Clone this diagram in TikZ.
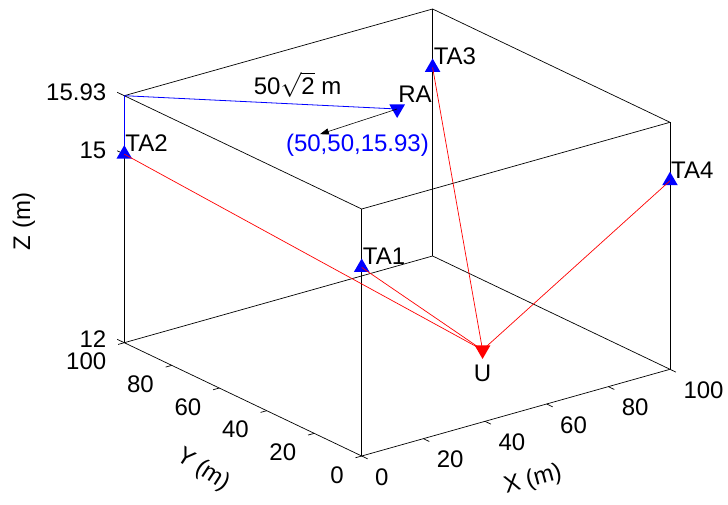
\documentclass[tikz,border=0pt]{standalone}
\usepackage{fontspec}
\setmainfont{Liberation Sans}
\usepackage{tikz}
\usetikzlibrary{arrows.meta, shapes.geometric}

\begin{document}
\begin{tikzpicture}[
  x={(3.083pt,0.867pt)}, y={(-2.374pt,1.133pt)}, z={(0pt,62.85pt)},
  every node/.style={font=\fontsize{24}{28}\selectfont},
  frame/.style={draw=black, line width=0.7pt},
  ray/.style={draw=red, line width=0.7pt},
  link/.style={draw=blue, line width=0.8pt},
  pointer/.style={-{Triangle[length=9pt, width=6pt]}, line width=0.6pt},
  markup/.style={regular polygon, regular polygon sides=3, fill=blue,
    inner sep=0pt, minimum size=18pt},
  markdown/.style={markup, shape border rotate=180},
  tag/.style={anchor=south west, inner sep=0pt, xshift=1pt, yshift=2.5pt},
  axtitle/.style={inner sep=0pt}
]
  \useasboundingbox (-361.7pt,-48pt) rectangle (366.3pt,456pt);

  % Box (z = height above 12 m)
  \foreach \h in {0, 3.93} {
    \draw[frame] (0,0,\h) -- (100,0,\h) -- (100,100,\h) -- (0,100,\h) -- cycle;
  }
  \foreach \a/\b in {0/0, 100/0, 100/100, 0/100} {
    \draw[frame] (\a,\b,0) -- (\a,\b,3.93);
  }

  % Ticks and tick labels
  \foreach \v in {0,20,...,100} {
    \draw[frame] (\v,0,0) -- (\v,-2.5,0);
    \node[anchor=west, xshift=10pt, yshift=-21pt] (xt\v) at (\v,0,0) {\v};
    \draw[frame] (0,\v,0) -- (-2,\v,0);
    \node[anchor=east, xshift=-14.5pt, yshift=-19pt] (yt\v) at (0,\v,0) {\v};
  }
  \foreach \h/\t [count=\i] in {0/12, 3/15, 3.93/15.93} {
    \draw[frame] (0,100,\h) -- (0,103,\h);
    \node[anchor=east, xshift=-14.5pt, yshift=3.5pt] (zt\i) at (0,100,\h) {\t};
  }

  % Axis titles
  \node[axtitle, rotate=90] (zlab) at (-337.7pt,234.5pt) {Z (m)};
  \node[axtitle, rotate=-33] (ylab) at (-158.7pt,-14pt) {Y (m)};
  \node[axtitle, rotate=15] (xlab) at (171.3pt,-24pt) {X (m)};

  % Anchors, reference anchor and user
  \coordinate (corner) at (0,100,3.93);
  \node[markup] (ta1) at (0,0,3) {};
  \node[markup] (ta2) at (0,100,3) {};
  \node[markup] (ta3) at (100,100,3) {};
  \node[markup] (ta4) at (100,0,3) {};
  \node[markdown] (ra) at (50,50,3.93) {};
  \node[markdown, fill=red] (u) at (70,40,0) {};

  \node[tag] (ta1lab) at (ta1.center) {TA1};
  \node[tag] (ta2lab) at (ta2.center) {TA2};
  \node[tag] (ta3lab) at (ta3.center) {TA3};
  \node[tag] (ta4lab) at (ta4.center) {TA4};
  \node[tag, yshift=4pt] (ralab) at (ra.center) {RA};
  \node[anchor=north, inner sep=0pt, yshift=-15pt] (ulab) at (u.center) {U};

  % Links
  \foreach \t in {ta1, ta2, ta3, ta4} {
    \draw[ray] (u.center) -- (\t.center);
  }
  \draw[link] (corner) -- (ta2.center);
  \draw[link] (corner) -- node[pos=0.635, anchor=south, inner sep=0pt, yshift=6pt, text=black] (dist) {50$\sqrt{\mbox{2}}$ m} (ra.center);

  % Position of RA
  \node[text=blue, inner sep=0pt, xshift=-39.7pt, yshift=-36.6pt] (racoord) at (ra.center) {(50,50,15.93)};
  \coordinate (tip) at ([xshift=34pt]racoord.north west);
  \draw[pointer] (ra.center) -- (tip);

\end{tikzpicture}
\end{document}
